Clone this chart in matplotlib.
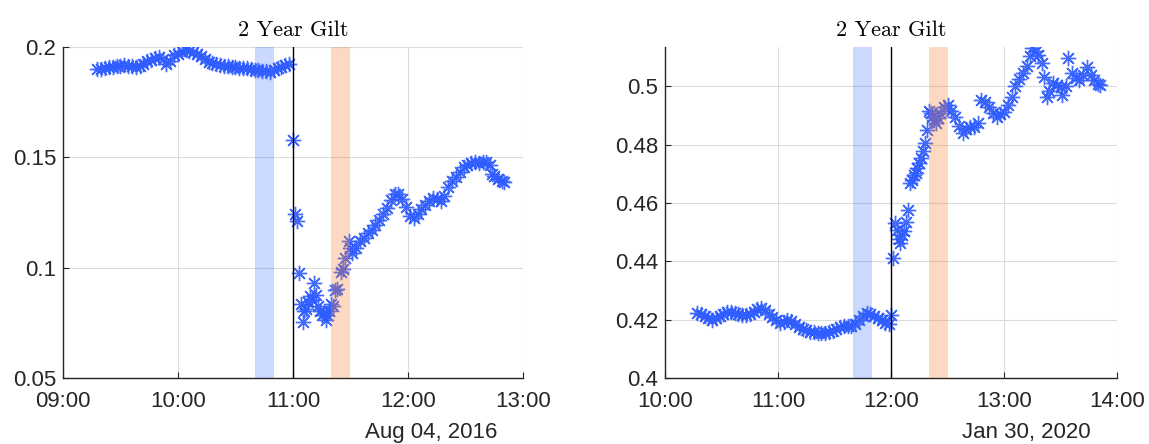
import matplotlib.pyplot as plt
import matplotlib.dates as mdates
import numpy as np

# minutes after 09:00 on Aug 04, 2016
t_2016 = [18, 20, 22, 24, 26, 28, 30, 32, 34, 36, 38, 40, 42, 44, 46, 48, 50, 52, 54, 56,
          58, 60, 62, 64, 66, 68, 70, 72, 74, 76, 78, 80, 82, 84, 86, 88, 90, 92, 94, 96,
          98, 100, 102, 104, 106, 108, 110, 112, 114, 116, 118,
          120, 121, 122, 123, 124, 125, 126, 127, 128, 129, 130, 131, 132, 133, 134, 135,
          136, 137, 138, 139, 140, 141, 142, 143, 145, 146, 147, 149, 150, 151, 153, 155,
          157, 159, 161, 163, 165, 167, 169, 171, 173, 175, 177, 179, 181, 183, 185, 187,
          189, 191, 193, 195, 197, 199, 201, 203, 205, 207, 209, 211, 213, 215, 217, 219,
          221, 223, 224, 225, 227, 229, 230]
y_2016 = [0.1900, 0.1902, 0.1905, 0.1908, 0.1910, 0.1912, 0.1915, 0.1918, 0.1915, 0.1912,
          0.1910, 0.1915, 0.1925, 0.1935, 0.1940, 0.1950, 0.1955, 0.1945, 0.1925, 0.1938,
          0.1963, 0.1970, 0.1980, 0.1986, 0.1984, 0.1978, 0.1970, 0.1958, 0.1945, 0.1933,
          0.1928, 0.1922, 0.1918, 0.1916, 0.1913, 0.1910, 0.1910, 0.1907, 0.1905, 0.1903,
          0.1902, 0.1898, 0.1895, 0.1893, 0.1890, 0.1888, 0.1895, 0.1905, 0.1910, 0.1918,
          0.1925,
          0.1580, 0.1245, 0.1210, 0.0975, 0.0835, 0.0752, 0.0805, 0.0815, 0.0845, 0.0870,
          0.0855, 0.0930, 0.0875, 0.0825, 0.0805, 0.0785, 0.0795, 0.0765, 0.0785, 0.0805,
          0.0835, 0.0825, 0.0900, 0.0905, 0.0980, 0.0995, 0.1045, 0.1120, 0.1090, 0.1065,
          0.1090, 0.1120, 0.1135, 0.1155, 0.1170, 0.1195, 0.1215, 0.1245, 0.1270, 0.1305,
          0.1335, 0.1335, 0.1310, 0.1275, 0.1235, 0.1225, 0.1245, 0.1265, 0.1285, 0.1300,
          0.1315, 0.1310, 0.1300, 0.1325, 0.1365, 0.1395, 0.1410, 0.1435, 0.1456, 0.1465,
          0.1475, 0.1480, 0.1475, 0.1480, 0.1480, 0.1465, 0.1425, 0.1415, 0.1400, 0.1395,
          0.1390]

# minutes after 10:00 on Jan 30, 2020
t_2020 = [17, 19, 21, 23, 25, 27, 29, 31, 33, 35, 37, 39, 41, 43, 45, 47, 49, 51, 53, 55,
          57, 59, 61, 63, 65, 67, 69, 71, 73, 75, 77, 79, 81, 83, 85, 87, 89, 91, 93, 95,
          97, 99, 101, 103, 105, 107, 109, 111, 113, 115, 117, 119, 120,
          121, 122, 123, 124, 125, 126, 127, 128, 129, 130, 131, 132, 133, 134, 135, 136,
          137, 138, 139, 140, 141, 142, 143, 144, 145, 146, 148, 150, 152, 154, 156, 158,
          160, 162, 164, 166, 168, 170, 172, 174, 176, 178, 180, 182, 184, 186, 188, 190,
          192, 194, 195, 197, 198, 200, 201, 203, 204, 206, 208, 210, 211, 213, 214, 216,
          218, 220, 222, 224, 226, 228, 230, 231]
y_2020 = [0.4223, 0.4218, 0.4212, 0.4205, 0.4200, 0.4205, 0.4212, 0.4220, 0.4225, 0.4226,
          0.4222, 0.4218, 0.4216, 0.4216, 0.4220, 0.4228, 0.4236, 0.4240, 0.4232, 0.4220,
          0.4210, 0.4198, 0.4189, 0.4192, 0.4198, 0.4195, 0.4185, 0.4174, 0.4168, 0.4163,
          0.4159, 0.4157, 0.4155, 0.4154, 0.4156, 0.4158, 0.4162, 0.4168, 0.4174, 0.4177,
          0.4179, 0.4180, 0.4185, 0.4198, 0.4212, 0.4222, 0.4218, 0.4212, 0.4207, 0.4200,
          0.4190, 0.4185, 0.4215,
          0.4412, 0.4532, 0.4508, 0.4475, 0.4463, 0.4490, 0.4505, 0.4535, 0.4576, 0.4669,
          0.4680, 0.4695, 0.4703, 0.4720, 0.4737, 0.4755, 0.4780, 0.4805, 0.4850, 0.4915,
          0.4910, 0.4895, 0.4885, 0.4875, 0.4890, 0.4910, 0.4930, 0.4936, 0.4915, 0.4895,
          0.4865, 0.4840, 0.4855, 0.4860, 0.4860, 0.4875, 0.4954, 0.4945, 0.4930, 0.4910,
          0.4895, 0.4905, 0.4912, 0.4935, 0.4965, 0.5000, 0.5025, 0.5046, 0.5070, 0.5105,
          0.5132, 0.5120, 0.5108, 0.5080, 0.5033, 0.4964, 0.4985, 0.5010, 0.5005, 0.4998,
          0.4970, 0.5000, 0.5098, 0.5046, 0.5030, 0.5022, 0.5040, 0.5067, 0.5040, 0.5022,
          0.5008, 0.5005]

panels = [
    dict(day="2016-08-04", start="09:00", t=t_2016, y=y_2016, ylim=(0.05, 0.2),
         yticks=[0.05, 0.1, 0.15, 0.2], yticklabels=["0.05", "0.1", "0.15", "0.2"],
         xlim=("09:00", "13:00"), blue=("10:40", "10:50"), orange=("11:20", "11:30"),
         event="11:00", date_label="Aug 04, 2016"),
    dict(day="2020-01-30", start="10:00", t=t_2020, y=y_2020, ylim=(0.4, 0.5135),
         yticks=[0.4, 0.42, 0.44, 0.46, 0.48, 0.5],
         yticklabels=["0.4", "0.42", "0.44", "0.46", "0.48", "0.5"],
         xlim=("10:00", "14:00"), blue=("11:40", "11:50"), orange=("12:20", "12:30"),
         event="12:00", date_label="Jan 30, 2020"),
]

positions = [[0.0548, 0.1486, 0.4003, 0.7455], [0.5788, 0.1486, 0.3934, 0.7455]]

plt.rcParams['font.family'] = ['Liberation Sans', 'DejaVu Sans']
fig = plt.figure(figsize=(11.49, 4.44), dpi=100)

dark = '#262626'
for p, pos in zip(panels, positions):
    ax = fig.add_axes(pos)

    def ts(hm, day=p["day"]):
        return np.datetime64(day + "T" + hm)

    t0 = ts(p["start"])
    times = t0 + np.array(p["t"]).astype('timedelta64[m]')
    ax.plot(times, p["y"], linestyle='none', marker=(8, 2, 0), markersize=11,
            markeredgewidth=1.0, color='#2e5cff', alpha=0.9, zorder=2)

    ax.axvspan(ts(p["blue"][0]), ts(p["blue"][1]), color=(0.2, 0.4, 1.0), alpha=0.25,
               lw=0, zorder=3)
    ax.axvspan(ts(p["orange"][0]), ts(p["orange"][1]), color=(0.98, 0.51, 0.2), alpha=0.3,
               lw=0, zorder=3)
    ax.axvline(ts(p["event"]), color='black', lw=1.0, zorder=4)

    ax.set_xlim(ts(p["xlim"][0]), ts(p["xlim"][1]))
    ax.set_ylim(*p["ylim"])
    ax.set_yticks(p["yticks"])
    ax.set_yticklabels(p["yticklabels"])
    ax.xaxis.set_major_locator(mdates.HourLocator())
    ax.xaxis.set_major_formatter(mdates.DateFormatter('%H:%M'))

    ax.grid(True, color='#dcdcdc', lw=0.8, zorder=0)
    ax.set_axisbelow(True)
    for side in ['top', 'right']:
        ax.spines[side].set_visible(False)
    for side in ['left', 'bottom']:
        ax.spines[side].set_color(dark)
        ax.spines[side].set_linewidth(1.0)
    ax.tick_params(direction='in', length=4, color=dark, labelcolor=dark,
                   labelsize=16)
    ax.tick_params(axis='x', pad=9)
    ax.tick_params(axis='y', pad=5)

    ax.set_title("2 Year Gilt", family='cmr10', fontsize=16, pad=8, color='black')

    right = pos[0] + pos[2]
    fig.text(right - 26 / 1149, 1 - 432 / 444, p["date_label"], ha='right', va='center',
             fontsize=16, color=dark)

fig.savefig("out.png", dpi=100)
